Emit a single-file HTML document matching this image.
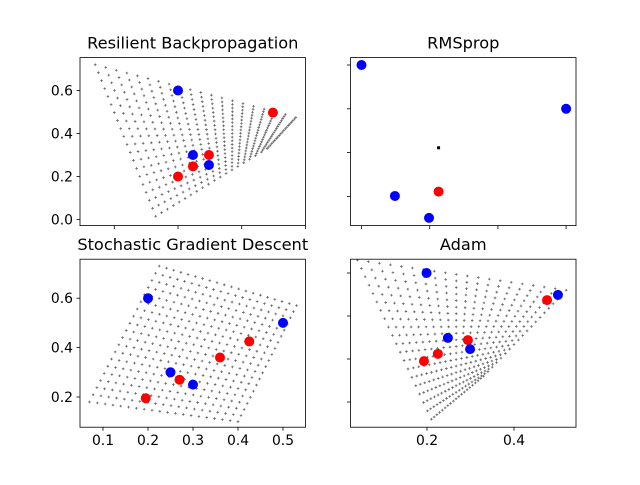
<!DOCTYPE html>
<html><head><meta charset="utf-8"><style>
body{margin:0;background:#fff;}
svg text{font-family:"DejaVu Sans","Liberation Sans",sans-serif;fill:#000;}
</style></head><body>
<svg id="fig" width="640" height="480" viewBox="0 0 640 480"></svg>
<script>
// ----- data -----
const rpropBlue = [[0.2,0.6],[0.2235,0.3],[0.2486,0.2535],[0.5,0.5]];
const rpropRed = [[0.2,0.2],[0.2235,0.247],[0.2486,0.3],[0.349,0.497]];
const rpropGrid = [[0.07,0.72],[0.385,0.475],[0.34,0.33],[0.165,0.015]];
const rmsBlue = [[0.2,0.6],[0.249,0.301],[0.299,0.251],[0.5,0.5]];
const rmsRed = [[0.313,0.311]];
const rmsBlack = [[0.313,0.411]];
const sgdBlue = [[0.2,0.6],[0.25,0.3],[0.3,0.25],[0.5,0.5]];
const sgdRed = [[0.195,0.195],[0.27,0.27],[0.36,0.36],[0.425,0.425]];
const sgdGrid = [[0.225,0.73],[0.53,0.57],[0.4,0.1],[0.07,0.18]];
const adamBlue = [[0.199,0.6],[0.248,0.449],[0.299,0.423],[0.501,0.549]];
const adamRed = [[0.476,0.537],[0.294,0.444],[0.225,0.412],[0.193,0.395]];
const adamGrid = [[0.04,0.63],[0.52,0.56],[0.33,0.36],[0.21,0.26]];
const rpropXTicks=[0.1,0.2,0.3,0.4], rpropYTicks=[0.0,0.2,0.4,0.6];
const rmsXTicks=[0.2,0.3,0.4,0.5], rmsYTicks=[0.3,0.4,0.5,0.6];
const sgdXTicks=[0.1,0.2,0.3,0.4,0.5], sgdYTicks=[0.2,0.4,0.6];
const adamXTicks=[0.2,0.4], adamYTicks=[0.3,0.4,0.5,0.6];

const NS="http://www.w3.org/2000/svg";
const fig=document.getElementById('fig');
function mk(tag,attrs,parent){const e=document.createElementNS(NS,tag);for(const k in attrs)e.setAttribute(k,attrs[k]);(parent||fig).appendChild(e);return e;}
let clipN=0;
function panel(cfg){
  const g=mk('g',{});
  
  
  const cid='clip'+(clipN++);
  const cp=mk('clipPath',{id:cid},g);
  mk('rect',{x:cfg.L,y:cfg.T,width:225.5,height:168},cp);
  const pg=mk('g',{'clip-path':'url(#'+cid+')'},g);
  const sx=v=>cfg.x0+(v-cfg.xa)*cfg.xs;
  const sy=v=>cfg.y0-(v-cfg.ya)*cfg.ys;
  if(cfg.grid){
    const [A,B,C,D]=cfg.grid;const n=20;
    let d='';
    for(let i=0;i<n;i++)for(let j=0;j<n;j++){
      const u=i/(n-1),v=j/(n-1);
      const x=(1-u)*(1-v)*A[0]+u*(1-v)*B[0]+u*v*C[0]+(1-u)*v*D[0];
      const y=(1-u)*(1-v)*A[1]+u*(1-v)*B[1]+u*v*C[1]+(1-u)*v*D[1];
      const px=sx(x),py=sy(y);
      d+=`M${px-1.3},${py}h2.6M${px},${py-1.3}v2.6`;
    }
    const p=mk('path',{d:d,stroke:'#333','stroke-opacity':0.75,'stroke-width':0.8,fill:'none'},pg);
    
    
  }
  (cfg.black||[]).forEach(d=>{const p=mk('rect',{x:sx(d[0])-1.5,y:sy(d[1])-1.5,width:3,height:3,fill:'#000'},pg);
    });
  cfg.red.forEach(d=>{const p=mk('circle',{cx:sx(d[0]),cy:sy(d[1]),r:5,fill:'#ff0000'},pg);
    });
  cfg.blue.forEach(d=>{const p=mk('circle',{cx:sx(d[0]),cy:sy(d[1]),r:5,fill:'#0000ff'},pg);
    });
  const fr=mk('rect',{x:cfg.L,y:cfg.T,width:225.5,height:168,fill:'none',stroke:'#000','stroke-width':0.8},g);
  
  cfg.xt.forEach(t=>{const x=sx(t);mk('line',{x1:x,x2:x,y1:cfg.T+168,y2:cfg.T+171.5,stroke:'#000','stroke-width':0.8},g);
    if(cfg.xl){const tx=mk('text',{x:x,y:cfg.T+186,'font-size':'13.9','text-anchor':'middle'},g);tx.textContent=t.toFixed(1);
      }});
  cfg.yt.forEach(t=>{const y=sy(t);mk('line',{x1:cfg.L,x2:cfg.L-3.5,y1:y,y2:y,stroke:'#000','stroke-width':0.8},g);
    if(cfg.yl){const tx=mk('text',{x:cfg.L-7,y:y+5,'font-size':'13.9','text-anchor':'end'},g);tx.textContent=t.toFixed(1);
      }});
  const ti=mk('text',{x:cfg.L+112.75,y:cfg.T-9,'font-size':'16.2','text-anchor':'middle'},g);ti.textContent=cfg.title;
  
}
panel({name:'rprop-panel',title:'Resilient Backpropagation',L:80,T:57.6,x0:178,xa:0.2,xs:637,y0:219.5,ya:0,ys:215,
  grid:rpropGrid,blue:rpropBlue,red:rpropRed,xt:rpropXTicks,yt:rpropYTicks,xl:false,yl:true});
panel({name:'rmsprop-panel',title:'RMSprop',L:350.5,T:57.6,x0:361.5,xa:0.2,xs:682,y0:65,ya:0.6,ys:438,
  blue:rmsBlue,red:rmsRed,black:rmsBlack,xt:rmsXTicks,yt:rmsYTicks,xl:false,yl:false});
panel({name:'sgd-panel',title:'Stochastic Gradient Descent',L:80,T:259.2,x0:103,xa:0.1,xs:450,y0:397,ya:0.2,ys:247,
  grid:sgdGrid,blue:sgdBlue,red:sgdRed,xt:sgdXTicks,yt:sgdYTicks,xl:true,yl:true});
panel({name:'adam-panel',title:'Adam',L:350.5,T:259.2,x0:427,xa:0.2,xs:435,y0:273,ya:0.6,ys:430,
  grid:adamGrid,blue:adamBlue,red:adamRed,xt:adamXTicks,yt:adamYTicks,xl:true,yl:false});
</script>
</body></html>
